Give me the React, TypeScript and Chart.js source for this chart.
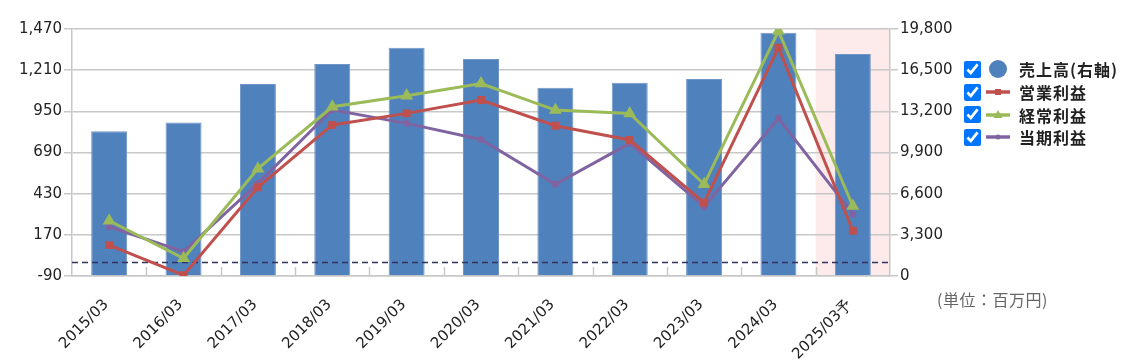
import React, { useEffect, useRef } from 'react';
import { Chart, registerables } from 'chart.js';

Chart.register(...registerables);

const categories = ['2015/03', '2016/03', '2017/03', '2018/03', '2019/03', '2020/03', '2021/03', '2022/03', '2023/03', '2024/03', '2025/03予'];
const salesValues = [11600, 12300, 15400, 17000, 18300, 17400, 15100, 15500, 15800, 19500, 17800];
const operatingProfit = [105, -85, 470, 864, 937, 1021, 859, 769, 373, 1352, 196];
const ordinaryProfit = [259, 22, 588, 979, 1048, 1126, 958, 937, 489, 1457, 352];
const netProfit = [221, 64, 495, 960, 874, 772, 489, 748, 348, 906, 302];
const leftTicks = [-90, 170, 430, 690, 950, 1210, 1470];
const rightTicks = [0, 3300, 6600, 9900, 13200, 16500, 19800];
const seriesLabels = ['売上高(右軸)', '営業利益', '経常利益', '当期利益'];
const unitLabel = '(単位：百万円)';
const forecastIndex = categories.length - 1;

const BLUE = '#4f81bd';
const RED = '#c0504d';
const GREEN = '#9bbb59';
const PURPLE = '#8064a2';
const GRID = '#c8c8c8';

const decorPlugin = {
  id: 'decor',
  beforeDraw(chart: any) {
    const { ctx, chartArea: a, scales } = chart;
    const x = scales.x;
    const left = (x.getPixelForValue(forecastIndex - 1) + x.getPixelForValue(forecastIndex)) / 2;
    ctx.save();
    ctx.fillStyle = '#fdeaea';
    ctx.fillRect(left, a.top, a.right - left, a.bottom - a.top);
    ctx.restore();
  },
  beforeDatasetsDraw(chart: any) {
    const { ctx, chartArea: a, scales } = chart;
    const x = scales.x;
    ctx.save();
    ctx.strokeStyle = GRID;
    ctx.lineWidth = 1.5;
    for (let i = 1; i < categories.length; i++) {
      const px = Math.round((x.getPixelForValue(i - 1) + x.getPixelForValue(i)) / 2) + 0.5;
      ctx.beginPath();
      ctx.moveTo(px, a.bottom);
      ctx.lineTo(px, a.bottom - 9);
      ctx.stroke();
    }
    ctx.restore();
  },
  afterDatasetDraw(chart: any, args: any) {
    if (args.index !== 0) return;
    const { ctx, chartArea: a, scales } = chart;
    const y = Math.round(scales.y.getPixelForValue(0)) + 0.5;
    ctx.save();
    ctx.strokeStyle = '#33335e';
    ctx.lineWidth = 1.3;
    ctx.setLineDash([6, 4]);
    ctx.beginPath();
    ctx.moveTo(a.left, y);
    ctx.lineTo(a.right, y);
    ctx.stroke();
    ctx.restore();
  },
};

const fmt = (v: any) => Number(v).toLocaleString('en-US');

function LegendIcon({ kind }: { kind: number }) {
  if (kind === 0) {
    return (
      <svg width={24} height={20} style={{ display: 'block' }}>
        <circle cx={12} cy={10} r={9} fill={BLUE} />
      </svg>
    );
  }
  const color = [RED, RED, GREEN, PURPLE][kind];
  return (
    <svg width={24} height={20} style={{ display: 'block' }}>
      <line x1={0} y1={10} x2={24} y2={10} stroke={color} strokeWidth={3.5} />
      {kind === 1 && <rect x={9} y={7} width={6} height={6} fill={color} />}
      {kind === 2 && <polygon points="12,5 16.5,13 7.5,13" fill={color} />}
      {kind === 3 && <circle cx={12} cy={10} r={2.5} fill={color} />}
    </svg>
  );
}

export default function App() {
  const canvasRef = useRef<HTMLCanvasElement | null>(null);

  useEffect(() => {
    const canvas = canvasRef.current;
    if (!canvas) return;
    const tickFont = { family: "'DejaVu Sans', sans-serif", size: 15 };
    const chart = new Chart(canvas, {
      type: 'bar',
      data: {
        labels: categories,
        datasets: [
          {
            type: 'bar',
            label: seriesLabels[0],
            data: salesValues,
            yAxisID: 'y1',
            backgroundColor: BLUE,
            borderColor: '#6f95c8',
            borderWidth: 1,
            categoryPercentage: 0.484,
            barPercentage: 1,
            order: 2,
          },
          {
            type: 'line',
            label: seriesLabels[1],
            data: operatingProfit,
            yAxisID: 'y',
            borderColor: RED,
            backgroundColor: RED,
            borderWidth: 3,
            pointStyle: 'rect',
            pointRadius: 3.5,
            tension: 0,
            order: 1,
          },
          {
            type: 'line',
            label: seriesLabels[2],
            data: ordinaryProfit,
            yAxisID: 'y',
            borderColor: GREEN,
            backgroundColor: GREEN,
            borderWidth: 3,
            pointStyle: 'triangle',
            pointRadius: 4.5,
            tension: 0,
            order: 1,
          },
          {
            type: 'line',
            label: seriesLabels[3],
            data: netProfit,
            yAxisID: 'y',
            borderColor: PURPLE,
            backgroundColor: PURPLE,
            borderWidth: 3,
            pointStyle: 'circle',
            pointRadius: 2,
            tension: 0,
            order: 1,
          },
        ],
      } as any,
      options: {
        responsive: false,
        animation: false,
        layout: { padding: { left: 0, right: 149, top: 29, bottom: 0 } },
        plugins: { legend: { display: false }, tooltip: { enabled: false } },
        scales: {
          x: {
            grid: { display: false, drawTicks: false, offset: true },
            border: { display: true, color: GRID, width: 1.5 },
            ticks: {
              minRotation: 45,
              maxRotation: 45,
              autoSkip: false,
              padding: 20,
              labelOffset: -3,
              color: '#222',
              font: { family: "'DejaVu Sans', sans-serif", size: 15 },
            },
            afterFit: (s: any) => {
              s.height = 87;
            },
          },
          y: {
            position: 'left',
            min: -90,
            max: 1470,
            afterBuildTicks: (s: any) => {
              s.ticks = leftTicks.map((v) => ({ value: v }));
            },
            grid: { color: GRID, lineWidth: 1.5, tickLength: 8 },
            border: { color: GRID, width: 1.5 },
            ticks: { padding: 2, color: '#222', font: tickFont, callback: fmt },
            afterFit: (s: any) => {
              s.width = 72;
            },
          },
          y1: {
            position: 'right',
            min: 0,
            max: 19800,
            afterBuildTicks: (s: any) => {
              s.ticks = rightTicks.map((v) => ({ value: v }));
            },
            grid: { drawOnChartArea: false, color: GRID, lineWidth: 1.5, tickLength: 8 },
            border: { color: GRID, width: 1.5 },
            ticks: { padding: 2, color: '#222', font: tickFont, callback: fmt },
            afterFit: (s: any) => {
              s.width = 90;
            },
          },
        },
      } as any,
      plugins: [decorPlugin as any],
    });
    return () => chart.destroy();
  }, []);

  return (
    <div style={{ position: 'relative', width: 1129, height: 363, background: '#fff', overflow: 'hidden' }}>
      <style>{`body{margin:0;}`}</style>
      <canvas ref={canvasRef} width={1129} height={363} style={{ position: 'absolute', left: 0, top: 0 }} />
      <div style={{ position: 'absolute', left: 964, top: 58 }}>
        {seriesLabels.map((label, i) => (
          <div key={label} style={{ display: 'flex', alignItems: 'center', height: 22.7 }}>
            <input
              type="checkbox"
              checked
              readOnly
              style={{ width: 17, height: 17, margin: 0, accentColor: '#0075ff' }}
            />
            <div style={{ marginLeft: 5 }}>
              <LegendIcon kind={i} />
            </div>
            <span
              style={{
                marginLeft: 9,
                fontFamily: "'Noto Sans CJK JP', sans-serif",
                fontWeight: 'bold',
                fontSize: 16,
                letterSpacing: 1,
                color: '#222',
                whiteSpace: 'nowrap',
                lineHeight: '20px',
              }}
            >
              {label}
            </span>
          </div>
        ))}
      </div>
      <div
        style={{
          position: 'absolute',
          left: 937,
          top: 287,
          fontFamily: "'Noto Sans CJK JP', sans-serif",
          fontSize: 16,
          letterSpacing: 0.5,
          color: '#666',
          whiteSpace: 'nowrap',
          lineHeight: '24px',
        }}
      >
        {unitLabel}
      </div>
    </div>
  );
}
